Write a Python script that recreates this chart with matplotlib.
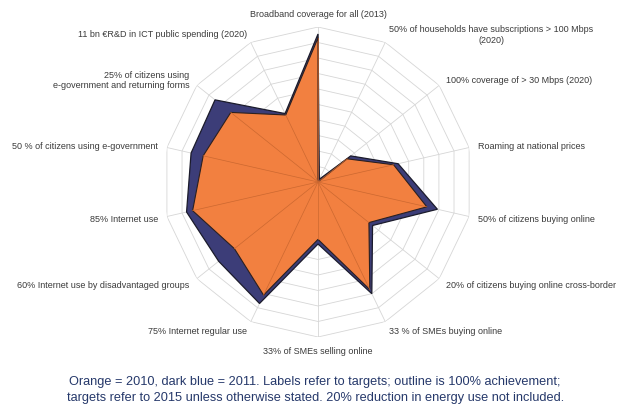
import numpy as np
import matplotlib
matplotlib.use('Agg')
import matplotlib.pyplot as plt

plt.rcParams['font.family'] = ['Liberation Sans', 'DejaVu Sans']

# targets, clockwise from the top
labels = ["Broadband coverage for all (2013)",
          "50% of households have subscriptions > 100 Mbps\n(2020)",
          "100% coverage of > 30 Mbps (2020)",
          "Roaming at national prices",
          "50% of citizens buying online",
          "20% of citizens buying online cross-border",
          "33 % of SMEs buying online",
          "33% of SMEs selling online",
          "75% Internet regular use",
          "60% Internet use by disadvantaged groups",
          "85% Internet use",
          "50 % of citizens using e-government",
          "25% of citizens using\ne-government and returning forms",
          "11 bn \u20acR&D in ICT public spending (2020)"]

# share of target achieved (1 = 100%)
v2010 = [0.93, 0.0, 0.24, 0.50, 0.72, 0.42, 0.77, 0.37, 0.81, 0.69, 0.83, 0.76, 0.72, 0.48]
v2011 = [0.955, 0.02, 0.27, 0.53, 0.79, 0.45, 0.80, 0.40, 0.87, 0.82, 0.87, 0.84, 0.85, 0.49]

rings = [0.1, 0.2, 0.3, 0.4, 0.5, 0.6, 0.7, 0.8, 0.9, 1.0]

n = len(labels)
ang = np.linspace(0, 2 * np.pi, n, endpoint=False)
angc = np.append(ang, ang[0])

fig = plt.figure(figsize=(6.18, 4.06), dpi=100)
ax = fig.add_axes([0.2638, 0.1675, 0.5016, 0.7635], projection='polar')
ax.set_theta_zero_location('N')
ax.set_theta_direction(-1)
ax.set_ylim(0, 1)
ax.grid(False)
ax.spines['polar'].set_visible(False)
ax.set_xticks([])
ax.set_yticks([])
ax.patch.set_alpha(0)

# polygon grid
for r in rings:
    ax.plot(angc, [r] * (n + 1), color='#d6d6d6', lw=0.6, zorder=1)
for a in ang:
    ax.plot([a, a], [0, 1], color='#d6d6d6', lw=0.6, zorder=1)

ax.fill(angc, np.append(v2011, v2011[0]), facecolor='#3c3d78', edgecolor='#1b1b2b', lw=0.9, zorder=2)
ax.fill(angc, np.append(v2010, v2010[0]), facecolor='#f28040', edgecolor='#2b2020', lw=0.8, zorder=3)
for a, v in zip(ang, v2010):
    ax.plot([a, a], [0, v], color='#cc6830', lw=0.5, zorder=4)

for a, lab in zip(ang, labels):
    s = np.sin(a)
    c = np.cos(a)
    if s > 0.1:
        ha = 'left'
    elif s < -0.1:
        ha = 'right'
    else:
        ha = 'center'
    if c > 0.95:
        va = 'bottom'
    elif c < -0.95:
        va = 'top'
    else:
        va = 'center'
    ax.text(a, 1.06, lab, ha=ha, va=va, multialignment=ha if ha != 'left' else 'center',
            fontsize=6.5, color='#3a3a3a', zorder=5)

fig.text(0.51, 1 - 382 / 406, "Orange = 2010, dark blue = 2011. Labels refer to targets; outline is 100% achievement;",
         ha='center', va='center', fontsize=9.2, color='#25386a')
fig.text(0.51, 1 - 398 / 406, "targets refer to 2015 unless otherwise stated. 20% reduction in energy use not included.",
         ha='center', va='center', fontsize=9.2, color='#25386a')

fig.savefig('out.png', dpi=100)
